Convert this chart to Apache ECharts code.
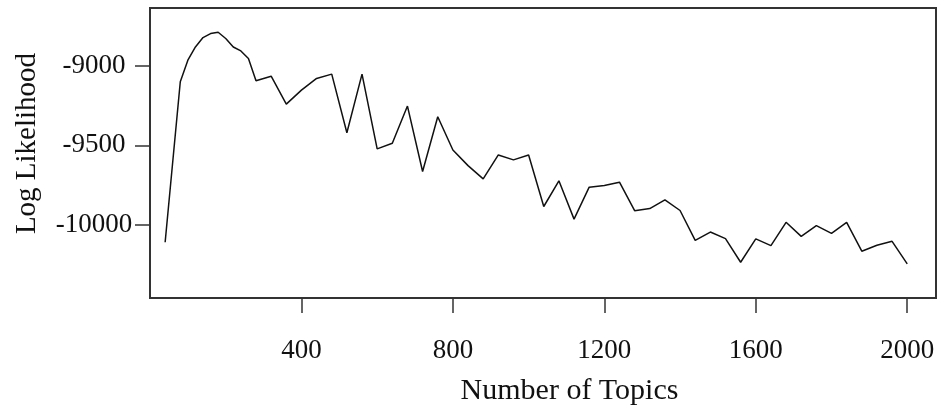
<!DOCTYPE html>
<html>
<head>
<meta charset="utf-8">
<script src="https://cdn.jsdelivr.net/npm/echarts@6/dist/echarts.min.js"></script>
<style>
  html, body { margin: 0; padding: 0; background: #fff; }
  #chart { width: 941px; height: 407px; }
</style>
</head>
<body>
<div id="chart"></div>
<script>
// Number of topics evaluated
const topics = [
  40, 80, 100, 120, 140, 160, 180, 200, 220, 240, 260, 280,
  320, 360, 400, 440, 480, 520, 560, 600, 640, 680, 720, 760,
  800, 840, 880, 920, 960, 1000, 1040, 1080, 1120, 1160, 1200, 1240,
  1280, 1320, 1360, 1400, 1440, 1480, 1520, 1560, 1600, 1640, 1680, 1720,
  1760, 1800, 1840, 1880, 1920, 1960, 2000
];
// Log likelihood at each topic count
const logLik = [
  -10107, -9102, -8967, -8884, -8825, -8800, -8792, -8831, -8884, -8909, -8956, -9095,
  -9067, -9242, -9154, -9081, -9054, -9421, -9054, -9522, -9487, -9254, -9664, -9321,
  -9529, -9627, -9710, -9560, -9591, -9560, -9883, -9722, -9962, -9762, -9752, -9731,
  -9909, -9896, -9841, -9908, -10095, -10043, -10084, -10232, -10086, -10128, -9982, -10070,
  -10003, -10051, -9982, -10163, -10126, -10101, -10242
];
const xTicks = [400, 800, 1200, 1600, 2000];
const yTicks = [-10000, -9500, -9000];

const serif = '"Liberation Serif", "Times New Roman", "DejaVu Serif", serif';
const ink = '#111';
const plain = v => String(v);

const chart = echarts.init(document.getElementById('chart'), null, { renderer: 'canvas' });
chart.setOption({
  animation: false,
  backgroundColor: '#fff',
  grid: {
    left: 150, right: 5, top: 8, bottom: 109,
    containLabel: false,
    outerBoundsMode: 'none',
    show: true, borderColor: '#333', borderWidth: 2,
    backgroundColor: 'transparent'
  },
  xAxis: {
    type: 'value',
    min: 0, max: 2076,
    name: 'Number of Topics',
    nameLocation: 'middle',
    nameGap: 78,
    nameTextStyle: { fontFamily: serif, fontSize: 30, color: ink, padding: [0, 0, 0, 53] },
    axisLine: { show: false },
    axisTick: { show: true, customValues: xTicks, length: 15, lineStyle: { color: '#333', width: 1.5 } },
    axisLabel: { customValues: xTicks, formatter: plain, margin: 39, fontFamily: serif, fontSize: 27, color: ink },
    splitLine: { show: false }
  },
  yAxis: {
    type: 'value',
    min: -10456, max: -8640,
    name: 'Log Likelihood',
    nameLocation: 'middle',
    nameRotate: 90,
    nameGap: 108,
    nameTextStyle: { fontFamily: serif, fontSize: 29, color: ink, padding: [0, 0, 0, 19] },
    axisLine: { show: false },
    axisTick: { show: true, customValues: yTicks, length: 15, lineStyle: { color: '#333', width: 1.5 } },
    axisLabel: { customValues: yTicks, formatter: plain, margin: 56, align: 'center', fontFamily: serif, fontSize: 27, color: ink },
    splitLine: { show: false }
  },
  series: [{
    type: 'line',
    data: topics.map((t, i) => [t, logLik[i]]),
    showSymbol: false,
    lineStyle: { color: '#111', width: 1.5 }
  }]
});
</script>
</body>
</html>
